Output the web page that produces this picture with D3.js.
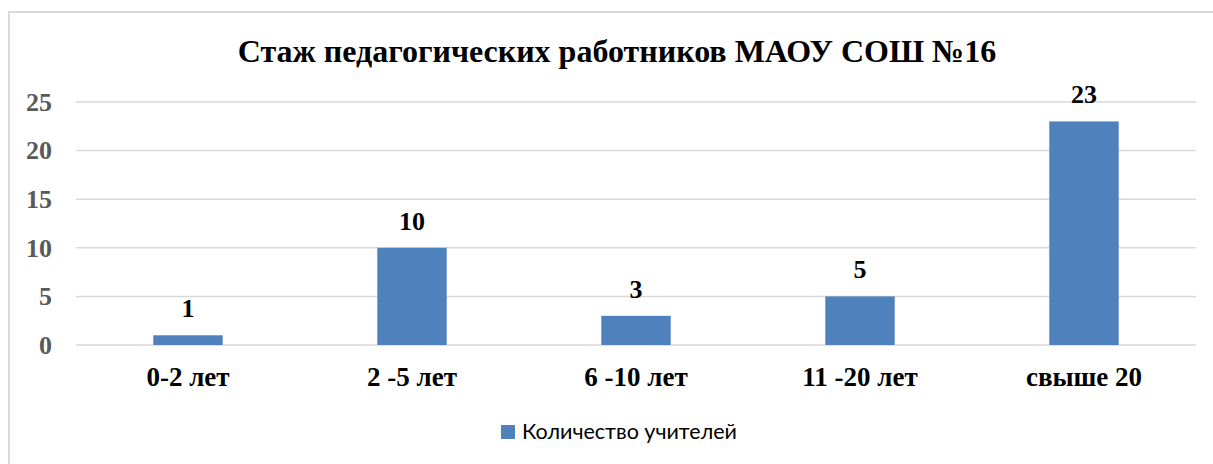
<!DOCTYPE html>
<html>
<head>
    <meta charset="utf-8" />
    <script src="https://d3js.org/d3.v7.min.js"></script>
    <style>
        body { margin: 0; background: #fff; }
        svg { display: block; }
    </style>
</head>
<body>
    <svg width="1213" height="464"></svg>
    <script>
        // chart data
        var categories = ["0-2 лет", "2 -5 лет", "6 -10 лет", "11 -20 лет", "свыше 20"];
        var values = [1, 10, 3, 5, 23];
        var yTicks = [0, 5, 10, 15, 20, 25];
        var seriesName = "Количество учителей";
        var title = "Стаж педагогических работников МАОУ СОШ №16";

        var data = categories.map(function (c, i) { return { cat: c, value: values[i] }; });

        var svg = d3.select("svg"),
            margin = { top: 102, right: 17, bottom: 119, left: 76 },
            width = +svg.attr("width") - margin.left - margin.right,
            height = +svg.attr("height") - margin.top - margin.bottom;

        // frame
        svg.append("rect")
            .attr("x", 9).attr("y", 12)
            .attr("width", 1220).attr("height", 470)
            .attr("fill", "#fff")
            .attr("stroke", "#D9D9D9")
            .attr("stroke-width", 2);

        svg.append("text")
            .attr("x", 617).attr("y", 62)
            .attr("text-anchor", "middle")
            .style("font-family", "'Liberation Serif', serif")
            .style("font-weight", "bold")
            .style("font-size", "32px")
            .attr("fill", "#000")
            .text(title);

        var g = svg.append("g").attr("transform", "translate(" + margin.left + "," + margin.top + ")");

        var x = d3.scaleBand()
            .range([0, width])
            .domain(categories)
            .paddingInner(0.69)
            .paddingOuter(0.345);

        var y = d3.scaleLinear()
            .range([height, 0])
            .domain([0, 25]);

        // gridlines
        g.selectAll(".grid")
            .data(yTicks)
            .enter().append("line")
            .attr("x1", 0).attr("x2", width)
            .attr("y1", function (d) { return y(d); })
            .attr("y2", function (d) { return y(d); })
            .attr("stroke", "#D9D9D9")
            .attr("stroke-width", 1.5);

        // y tick labels
        var yAxis = g.append("g")
            .call(d3.axisLeft(y).tickValues(yTicks).tickSize(0).tickPadding(24));
        yAxis.select(".domain").remove();
        yAxis.selectAll("text")
            .style("font-family", "'Liberation Serif', serif")
            .style("font-weight", "bold")
            .style("font-size", "26px")
            .attr("fill", "#595959");

        // bars
        g.selectAll(".bar")
            .data(data)
            .enter().append("rect")
            .attr("class", "bar")
            .attr("x", function (d) { return x(d.cat); })
            .attr("y", function (d) { return y(d.value); })
            .attr("width", x.bandwidth())
            .attr("height", function (d) { return height - y(d.value); })
            .attr("fill", "#4F81BD");

        // value labels
        g.selectAll(".label")
            .data(data)
            .enter().append("text")
            .attr("class", "label")
            .attr("x", function (d) { return x(d.cat) + x.bandwidth() / 2; })
            .attr("y", function (d) { return y(d.value) - 18; })
            .attr("text-anchor", "middle")
            .style("font-family", "'Liberation Serif', serif")
            .style("font-weight", "bold")
            .style("font-size", "26px")
            .attr("fill", "#000")
            .text(function (d) { return d.value; });

        // x axis labels
        var xAxis = g.append("g")
            .attr("transform", "translate(0," + height + ")")
            .call(d3.axisBottom(x).tickSize(0).tickPadding(22));
        xAxis.select(".domain").remove();
        xAxis.selectAll("text")
            .style("font-family", "'Liberation Serif', serif")
            .style("font-weight", "bold")
            .style("font-size", "27px")
            .attr("fill", "#000");

        // legend
        var legend = svg.append("g").attr("transform", "translate(501,425)");
        legend.append("rect")
            .attr("width", 14).attr("height", 14)
            .attr("fill", "#4F81BD");
        legend.append("text")
            .attr("x", 21).attr("y", 14)
            .style("font-family", "Lato, sans-serif")
            .style("font-size", "21.5px")
            .attr("fill", "#000")
            .text(seriesName);
    </script>
</body>
</html>
